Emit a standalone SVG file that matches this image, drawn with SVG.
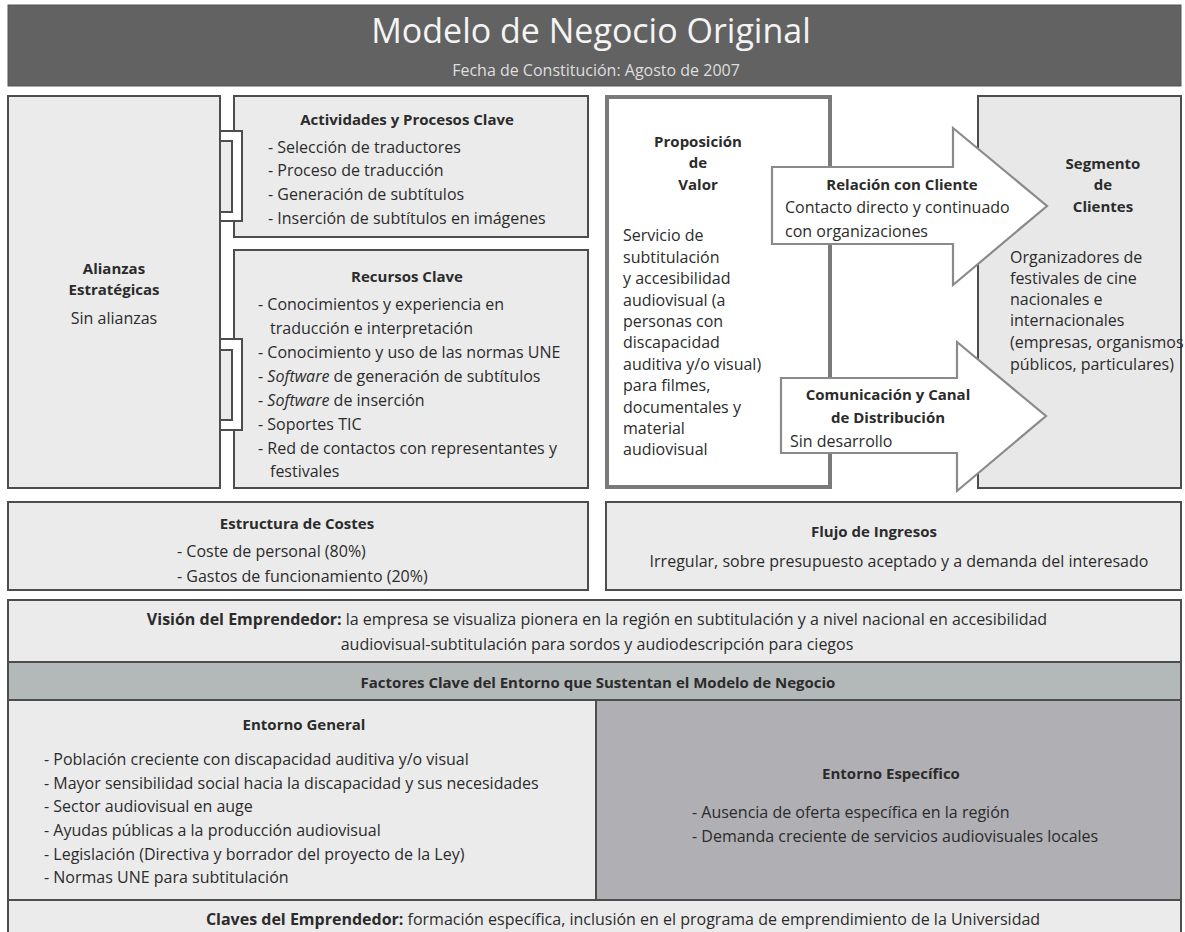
<svg xmlns="http://www.w3.org/2000/svg" width="1185" height="932" viewBox="0 0 1185 932">
<style>
text{font-family:"Open Sans","Noto Sans","Liberation Sans",sans-serif;font-size:16px;fill:#2b2b2b}
.b{font-weight:bold;font-size:15px}
.c{text-anchor:middle}
.box{fill:#ebebeb;stroke:#4d4d4d;stroke-width:2}
.pv{fill:#ffffff;stroke:#7a7a7a;stroke-width:4}
.arr{fill:#ffffff;stroke:#8a8a8a;stroke-width:2.2;stroke-linejoin:miter}
.brk{fill:#ffffff;stroke:#4d4d4d;stroke-width:2}
.brki{fill:#ebebeb;stroke:#4d4d4d;stroke-width:2}
.i{font-style:italic}
</style>
<rect width="1185" height="932" fill="#ffffff"/>
<g id="header">
<rect x="8" y="5" width="1173" height="81" fill="#626262" stroke="#555" stroke-width="1"/>
<text x="591" y="43" class="c" style="font-size:34px;fill:#f4f4f4">Modelo de Negocio Original</text>
<text x="596" y="76" class="c" style="font-size:16px;fill:#dedede">Fecha de Constitución: Agosto de 2007</text>
</g>
<g id="alianzas">
<rect class="box" x="8" y="96" width="212" height="392"/>
<text class="b c" x="114" y="274">Alianzas</text>
<text class="b c" x="114" y="295">Estratégicas</text>
<text class="c" x="114" y="324">Sin alianzas</text>
</g>
<g id="actividades">
<rect class="box" x="234" y="96" width="354" height="141"/>
<text class="b c" x="407" y="125">Actividades y Procesos Clave</text>
<text x="268" y="153">- Selección de traductores</text>
<text x="268" y="176">- Proceso de traducción</text>
<text x="268" y="200">- Generación de subtítulos</text>
<text x="268" y="224">- Inserción de subtítulos en imágenes</text>
</g>
<g id="recursos">
<rect class="box" x="234" y="250" width="354" height="238"/>
<text class="b c" x="407" y="282">Recursos Clave</text>
<text x="258" y="310">- Conocimientos y experiencia en</text>
<text x="270" y="334">traducción e interpretación</text>
<text x="258" y="358">- Conocimiento y uso de las normas UNE</text>
<text x="258" y="382">- <tspan class="i">Software</tspan> de generación de subtítulos</text>
<text x="258" y="406">- <tspan class="i">Software</tspan> de inserción</text>
<text x="258" y="430">- Soportes TIC</text>
<text x="258" y="454">- Red de contactos con representantes y</text>
<text x="270" y="477">festivales</text>
</g>
<g id="propuesta">
<rect class="pv" x="607" y="97" width="223" height="390"/>
<text class="b c" x="698" y="147">Proposición</text>
<text class="b c" x="698" y="168">de</text>
<text class="b c" x="698" y="190">Valor</text>
<text x="623" y="241">Servicio de</text>
<text x="623" y="263">subtitulación</text>
<text x="623" y="284">y accesibilidad</text>
<text x="623" y="306">audiovisual (a</text>
<text x="623" y="327">personas con</text>
<text x="623" y="348">discapacidad</text>
<text x="623" y="370">auditiva y/o visual)</text>
<text x="623" y="391">para filmes,</text>
<text x="623" y="413">documentales y</text>
<text x="623" y="434">material</text>
<text x="623" y="455">audiovisual</text>
</g>
<g id="segmento">
<rect x="978" y="96" width="203" height="392" fill="#e8e8e8" stroke="#4d4d4d" stroke-width="2"/>
<text class="b c" x="1103" y="169">Segmento</text>
<text class="b c" x="1103" y="190">de</text>
<text class="b c" x="1103" y="212">Clientes</text>
<text x="1010" y="263">Organizadores de</text>
<text x="1010" y="284">festivales de cine</text>
<text x="1010" y="305">nacionales e</text>
<text x="1010" y="326">internacionales</text>
<text x="1010" y="348">(empresas, organismos</text>
<text x="1010" y="370">públicos, particulares)</text>
</g>
<g id="connectors">
<rect class="brk" x="220" y="131" width="22" height="90"/>
<rect class="brki" x="220" y="141" width="12" height="71"/>
<rect class="brk" x="220" y="339" width="22" height="91"/>
<rect class="brki" x="220" y="350" width="12" height="70"/>
</g>
<g id="relacion">
<polygon class="arr" points="772,167 953,167 953,128 1047,206 953,285 953,244 772,244"/>
<text class="b c" x="902" y="190">Relación con Cliente</text>
<text x="785" y="213">Contacto directo y continuado</text>
<text x="785" y="237">con organizaciones</text>
</g>
<g id="comunicacion">
<polygon class="arr" points="781,378 957,378 957,342 1046,416 957,491 957,453 781,453"/>
<text class="b c" x="888" y="400">Comunicación y Canal</text>
<text class="b c" x="888" y="423">de Distribución</text>
<text x="790" y="447">Sin desarrollo</text>
</g>
<g id="costes">
<rect class="box" x="8" y="502" width="580" height="88"/>
<text class="b c" x="297" y="529">Estructura de Costes</text>
<text x="177" y="557">- Coste de personal (80%)</text>
<text x="177" y="582">- Gastos de funcionamiento (20%)</text>
</g>
<g id="ingresos">
<rect class="box" x="606" y="502" width="575" height="88"/>
<text class="b c" x="874" y="537">Flujo de Ingresos</text>
<text class="c" x="899" y="567">Irregular, sobre presupuesto aceptado y a demanda del interesado</text>
</g>
<g id="vision">
<rect class="box" x="8" y="600" width="1173" height="62"/>
<text class="c" x="597" y="625"><tspan style="font-weight:bold">Visión del Emprendedor:</tspan> la empresa se visualiza pionera en la región en subtitulación y a nivel nacional en accesibilidad</text>
<text class="c" x="597" y="650">audiovisual-subtitulación para sordos y audiodescripción para ciegos</text>
</g>
<g id="factores">
<rect x="8" y="662" width="1173" height="38" fill="#b3b8b8" stroke="#4d4d4d" stroke-width="2"/>
<text class="b c" x="598" y="688">Factores Clave del Entorno que Sustentan el Modelo de Negocio</text>
</g>
<g id="entorno-general">
<rect class="box" x="8" y="700" width="588" height="200"/>
<text class="b c" x="304" y="730">Entorno General</text>
<text x="44" y="765">- Población creciente con discapacidad auditiva y/o visual</text>
<text x="44" y="789">- Mayor sensibilidad social hacia la discapacidad y sus necesidades</text>
<text x="44" y="812">- Sector audiovisual en auge</text>
<text x="44" y="836">- Ayudas públicas a la producción audiovisual</text>
<text x="44" y="860">- Legislación (Directiva y borrador del proyecto de la Ley)</text>
<text x="44" y="883">- Normas UNE para subtitulación</text>
</g>
<g id="entorno-especifico">
<rect x="596" y="700" width="585" height="200" fill="#b0afb4" stroke="#4d4d4d" stroke-width="2"/>
<text class="b c" x="891" y="779">Entorno Específico</text>
<text x="692" y="818">- Ausencia de oferta específica en la región</text>
<text x="692" y="842">- Demanda creciente de servicios audiovisuales locales</text>
</g>
<g id="claves">
<rect class="box" x="8" y="900" width="1173" height="40"/>
<text class="c" x="623" y="925"><tspan style="font-weight:bold">Claves del Emprendedor:</tspan> formación específica, inclusión en el programa de emprendimiento de la Universidad</text>
</g>
</svg>
